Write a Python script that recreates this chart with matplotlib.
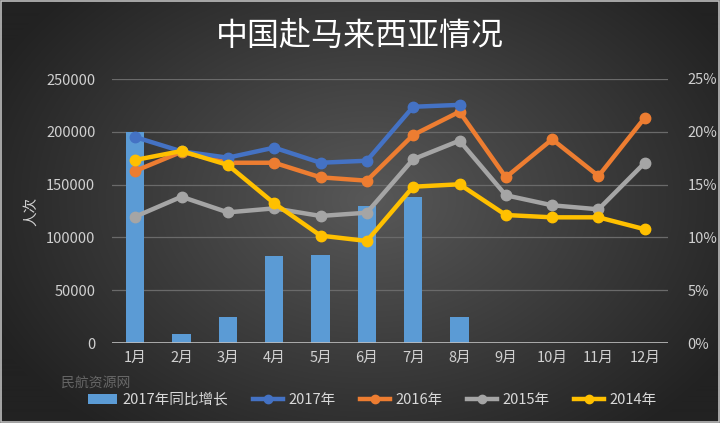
import numpy as np
import matplotlib
matplotlib.use("Agg")
import matplotlib.pyplot as plt
from matplotlib.patches import Rectangle

plt.rcParams['font.family'] = ['Noto Sans CJK SC', 'DejaVu Sans']

months = ['1月', '2月', '3月', '4月', '5月', '6月', '7月', '8月', '9月', '10月', '11月', '12月']
growth_2017 = [20.0, 0.88, 2.5, 8.2, 8.35, 13.0, 13.8, 2.42]
v2017 = [195000, 181500, 175500, 185000, 170700, 172600, 223700, 225500]
v2016 = [162900, 181000, 170700, 170700, 156900, 153700, 197000, 219000, 156900, 192900, 158100, 213400]
v2015 = [119600, 138500, 123700, 127500, 120300, 123400, 174000, 191600, 139900, 130400, 126600, 170700]
v2014 = [173300, 181800, 168600, 132300, 101700, 96600, 148000, 150300, 121200, 119000, 119000, 107700]

W, H = 720, 423
fig = plt.figure(figsize=(W / 100, H / 100), dpi=100)

# background radial gradient
bg = fig.add_axes([0, 0, 1, 1])
yy, xx = np.mgrid[0:H, 0:W]
d = np.sqrt(((xx - 370) / 420.0) ** 2 + ((yy - 200) / 300.0) ** 2)
d = np.clip(d, 0, 1)
c0 = np.array([0x58, 0x58, 0x58]) / 255.0
c1 = np.array([0x22, 0x22, 0x22]) / 255.0
img = c0[None, None, :] * (1 - d[..., None]) + c1[None, None, :] * d[..., None]
bg.imshow(img, aspect='auto', extent=[0, 1, 0, 1], origin='upper')
bg.set_xlim(0, 1); bg.set_ylim(0, 1)
bg.axis('off')
bg.add_patch(Rectangle((0.002, 0.003), 0.996, 0.994, fill=False, edgecolor='#bdbdbd', linewidth=1.2))

ax = fig.add_axes([112 / W, (H - 343) / H, (668 - 112) / W, (343 - 79) / H])
ax.set_facecolor('none')
ax2 = ax.twinx()

x = np.arange(len(months))
xb = np.arange(len(growth_2017))

ax2.bar(xb, growth_2017, width=0.4, color='#5B9BD5', zorder=2, label='2017年同比增长')
ax2.set_ylim(0, 25)
ax2.set_yticks([0, 5, 10, 15, 20, 25])
ax2.set_yticklabels([f'{t}%' for t in [0, 5, 10, 15, 20, 25]])

ax.set_zorder(ax2.get_zorder() + 1)
ax.patch.set_visible(False)

lw = 3.2
ms = 7.5
ax.plot(np.arange(len(v2017)), v2017, color='#4472C4', lw=lw, marker='o', ms=ms, label='2017年', zorder=5)
ax.plot(x, v2016, color='#ED7D31', lw=lw, marker='o', ms=ms, label='2016年', zorder=4)
ax.plot(x, v2015, color='#A5A5A5', lw=lw, marker='o', ms=ms, label='2015年', zorder=3)
ax.plot(x, v2014, color='#FFC000', lw=lw, marker='o', ms=ms, label='2014年', zorder=6)

ax.set_ylim(0, 250000)
ax.set_yticks(range(0, 250001, 50000))
ax.set_xlim(-0.5, len(months) - 0.5)
ax.set_xticks(x)
ax.set_xticklabels(months)

for a in (ax, ax2):
    for s in a.spines.values():
        s.set_visible(False)
    a.tick_params(length=0, colors='#d0d0d0', labelsize=10.5)

ax.tick_params(axis='x', pad=6)
ax.tick_params(axis='y', pad=12)
ax2.tick_params(axis='y', pad=14)

for yv in range(50000, 250001, 50000):
    ax2.axhline(yv / 10000.0, color='#6a6a6a', lw=0.9, zorder=1)
ax2.axhline(0, color='#bfbfbf', lw=1.2, zorder=3)

ax.set_ylabel('人次', color='#d0d0d0', fontsize=10.5, labelpad=6)

fig.text(0.5, 0.915, '中国赴马来西亚情况', color='white', fontsize=23, ha='center', va='center', fontweight='medium')

h1, l1 = ax2.get_legend_handles_labels()
h2, l2 = ax.get_legend_handles_labels()
leg = fig.legend(h1 + h2, l1 + l2, loc='center', bbox_to_anchor=(0.517, 0.055), ncol=5, frameon=False,
                 fontsize=10.5, labelcolor='#d9d9d9', handlelength=2.0, columnspacing=1.7, handletextpad=0.4,
                 markerscale=0.8)

# watermark
fig.text(0.085, 0.085, '民航资源网', color='#9a9a9a', fontsize=10, alpha=0.55)

fig.savefig('out.png', dpi=100)
